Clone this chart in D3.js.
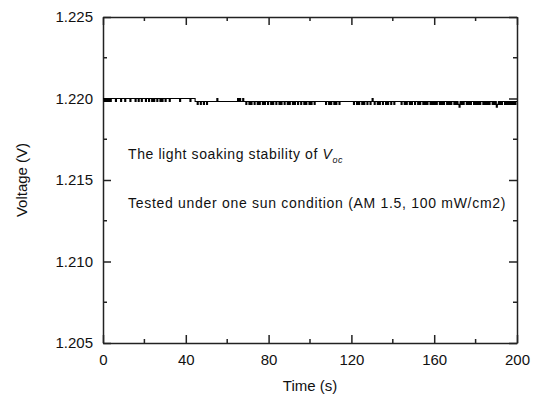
<!DOCTYPE html>
<html>
<head>
<meta charset="utf-8">
<script src="https://cdn.jsdelivr.net/npm/d3@7"></script>
<style>
  body { margin: 0; background: #fff; }
  text { font-family: "Liberation Sans", Arial, sans-serif; fill: #111; }
</style>
</head>
<body>
<svg id="chart"></svg>
<script>
/* CONSTANTS AND GLOBALS */
const width = 533,
  height = 409,
  margin = { top: 17, bottom: 66, left: 103, right: 16 };

// time axis, one reading every 0.5 s
const timeStep = 0.5;
const xMajorTicks = [0, 40, 80, 120, 160, 200];
const xMinorTicks = [20, 60, 100, 140, 180];
const yMajorTicks = [1.205, 1.210, 1.215, 1.220, 1.225];
const yMinorTicks = [1.2075, 1.2125, 1.2175, 1.2225];

// readings jump between a few discrete levels: stored as level steps above 1.21964 V
const baseVoltage = 1.21964;
const stepVoltage = 0.00018;
const readingSteps = [
  // 0 - 20 s
  2,1,2,1,2,1,2,1,2,2, 2,2,1,2,2,2,2,1,2,2, 2,1,2,2,2,2,1,2,2,2, 2,1,2,2,1,2,2,1,2,2,
  // 20 - 40 s
  2,1,2,2,1,2,2,1,2,1, 2,2,1,2,2,1,2,1,2,2, 1,2,2,2,1,2,2,2,2,2, 2,2,2,2,1,2,2,2,2,2,
  // 40 - 60 s
  2,2,2,2,1,2,2,2,2,1, 1,0,1,1,0,1,1,0,1,1, 0,1,1,1,1,1,1,1,1,1, 2,1,1,1,1,1,1,1,1,1,
  // 60 - 80 s
  1,1,1,1,1,1,1,1,1,1, 2,1,2,1,1,2,1,1,0,1, 1,0,1,0,1,1,0,1,1,0, 1,0,1,1,0,1,0,1,1,0,
  // 80 - 100 s
  1,1,0,1,0,1,1,0,1,1, 0,1,0,1,1,0,1,1,0,1, 0,1,1,0,1,0,1,1,0,1, 1,0,1,1,0,1,0,1,1,0,
  // 100 - 120 s
  1,0,1,1,0,1,1,1,1,1, 1,1,1,1,1,0,1,1,0,1, 0,1,1,0,1,0,1,1,0,1, 1,1,1,1,1,1,1,1,1,1,
  // 120 - 140 s
  1,1,0,1,1,0,1,0,1,1, 0,1,0,1,1,0,1,1,0,1, 2,1,0,1,1,0,1,0,1,1, 0,1,1,0,1,0,1,1,0,1,
  // 140 - 160 s
  1,0,1,1,1,1,1,1,0,1, 1,0,1,0,1,1,0,1,0,1, 1,0,1,1,0,1,0,1,1,0, 1,0,1,0,1,1,0,1,0,1,
  // 160 - 180 s
  0,1,0,1,1,0,1,0,1,0, 1,1,0,1,0,1,0,1,1,0, 1,0,1,0,-1,1,0,1,0,1, 1,0,1,0,1,0,1,1,0,1,
  // 180 - 200 s
  0,1,0,1,0,1,1,0,1,0, 1,0,1,0,1,1,0,1,0,1, -1,0,1,0,1,0,1,1,0,1, 0,1,0,1,0,1,0,1,0,1,
  1
];

const data = readingSteps.map((s, i) => ({ t: i * timeStep, v: baseVoltage + s * stepVoltage }));

const svg = d3.select("#chart")
  .attr("width", width)
  .attr("height", height);

const x = d3.scaleLinear().domain([0, 200]).range([margin.left, width - margin.right]);
const y = d3.scaleLinear().domain([1.205, 1.225]).range([height - margin.bottom, margin.top]);

const axisColor = "#222";
const majorLen = 8, minorLen = 4;

/////////////
/// AXES ///
////////////

// bottom
const gx = svg.append("g").attr("transform", `translate(0,${y.range()[0]})`);
gx.call(d3.axisBottom(x).tickValues(xMajorTicks).tickSizeInner(-majorLen).tickSizeOuter(0).tickPadding(11).tickFormat(d3.format("d")));
gx.selectAll(".minor").data(xMinorTicks).join("line").attr("class", "minor")
  .attr("x1", d => x(d)).attr("x2", d => x(d)).attr("y1", 0).attr("y2", -minorLen);

// top (ticks only)
const gxt = svg.append("g").attr("transform", `translate(0,${y.range()[1]})`);
gxt.call(d3.axisTop(x).tickValues(xMajorTicks).tickSizeInner(-majorLen).tickSizeOuter(0).tickFormat(""));
gxt.selectAll(".minor").data(xMinorTicks).join("line").attr("class", "minor")
  .attr("x1", d => x(d)).attr("x2", d => x(d)).attr("y1", 0).attr("y2", minorLen);

// left
const gy = svg.append("g").attr("transform", `translate(${x.range()[0]},0)`);
gy.call(d3.axisLeft(y).tickValues(yMajorTicks).tickSizeInner(-majorLen).tickSizeOuter(0).tickPadding(10).tickFormat(d3.format(".3f")));
gy.selectAll(".minor").data(yMinorTicks).join("line").attr("class", "minor")
  .attr("y1", d => y(d)).attr("y2", d => y(d)).attr("x1", 0).attr("x2", minorLen);

// right (ticks only)
const gyr = svg.append("g").attr("transform", `translate(${x.range()[1]},0)`);
gyr.call(d3.axisRight(y).tickValues(yMajorTicks).tickSizeInner(-majorLen).tickSizeOuter(0).tickFormat(""));
gyr.selectAll(".minor").data(yMinorTicks).join("line").attr("class", "minor")
  .attr("y1", d => y(d)).attr("y2", d => y(d)).attr("x1", 0).attr("x2", -minorLen);

svg.selectAll(".domain, .tick line, .minor")
  .attr("stroke", axisColor)
  .attr("stroke-width", 1.5);
svg.selectAll(".tick text")
  .style("font-size", "15px")
  .attr("fill", "#111");

// the reading trace: short rectangular pulses between levels
svg.append("path")
  .datum(data)
  .attr("fill", "none")
  .attr("stroke", "#000")
  .attr("stroke-width", 1.1)
  .attr("d", d3.line().x(d => x(d.t)).y(d => y(d.v)).curve(d3.curveStepAfter));

// axis titles
svg.append("text")
  .attr("x", (x.range()[0] + x.range()[1]) / 2)
  .attr("y", 391)
  .attr("text-anchor", "middle")
  .style("font-size", "15px")
  .text("Time (s)");

svg.append("text")
  .attr("transform", `translate(27,${(y.range()[0] + y.range()[1]) / 2}) rotate(-90)`)
  .attr("text-anchor", "middle")
  .style("font-size", "15px")
  .text("Voltage (V)");

// annotations
const note1 = svg.append("text")
  .attr("x", 128)
  .attr("y", 159)
  .style("font-size", "14px")
  .style("letter-spacing", "0.6px");
note1.append("tspan").text("The light soaking stability of ");
note1.append("tspan").attr("font-style", "italic").text("V");
note1.append("tspan").attr("font-style", "italic").attr("dy", 4).style("font-size", "9px").text("oc");

svg.append("text")
  .attr("x", 128)
  .attr("y", 208)
  .style("font-size", "14px")
  .style("letter-spacing", "0.7px")
  .text("Tested under one sun condition (AM 1.5, 100 mW/cm2)");
</script>
</body>
</html>
